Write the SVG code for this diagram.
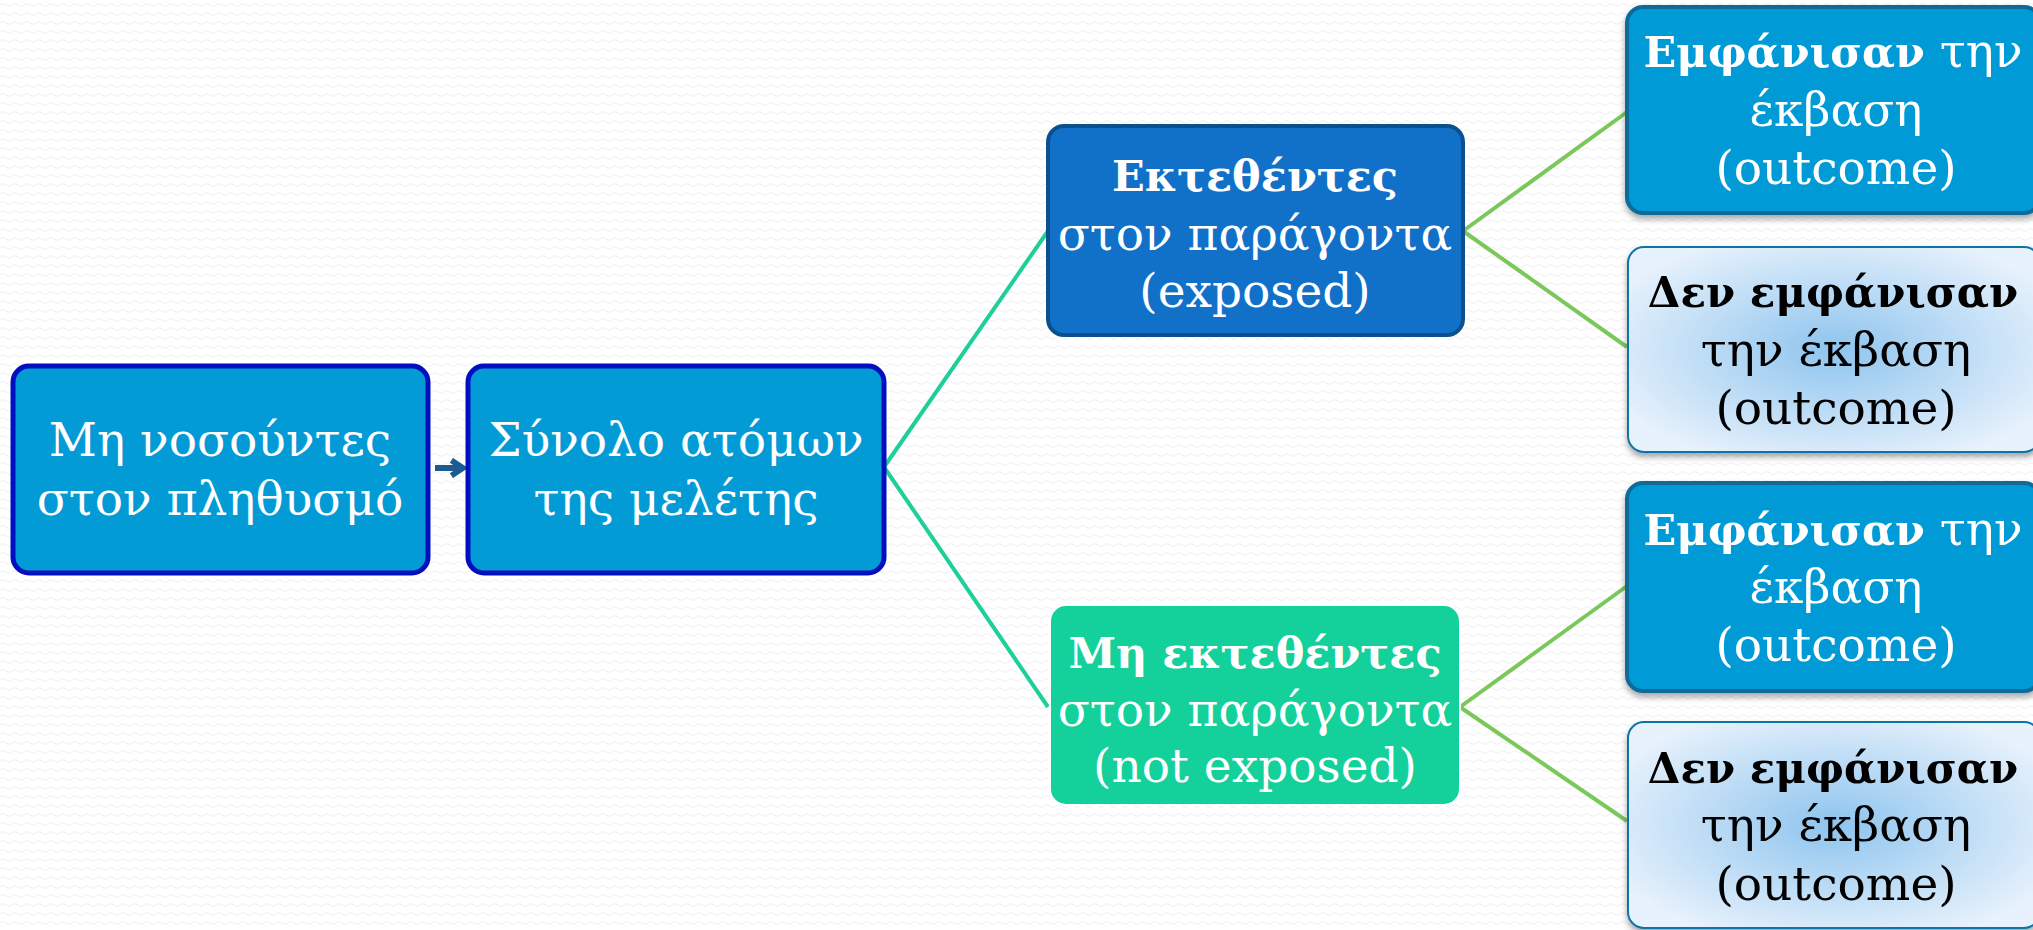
<svg xmlns="http://www.w3.org/2000/svg" width="2033" height="930" viewBox="0 0 2033 930">
<defs>
<pattern id="bg" width="12" height="9" patternUnits="userSpaceOnUse">
<path d="M0 5 Q3 2 6 5 T12 5" fill="none" stroke="#efefef" stroke-width="1"/>
</pattern>
<radialGradient id="lb" cx="0.5" cy="0.5" r="0.6">
<stop offset="0" stop-color="#8ec4ee"/>
<stop offset="1" stop-color="#e8f2fc"/>
</radialGradient>
<filter id="sh" x="-10%" y="-10%" width="120%" height="125%">
<feDropShadow dx="0" dy="4" stdDeviation="3" flood-color="#000" flood-opacity="0.35"/>
</filter>
<marker id="arr" viewBox="0 0 10 10" refX="7" refY="5" markerWidth="3.2" markerHeight="3.2" orient="auto" markerUnits="strokeWidth">
<path d="M2 1 L8 5 L2 9" fill="none" stroke="#1c5a94" stroke-width="3"/>
</marker>
</defs>
<style>
text{font-family:"DejaVu Serif","Liberation Serif",serif;font-size:47px;text-anchor:middle;fill:#fff}
.b{font-weight:bold;font-size:43px}
.b2{font-weight:bold;font-size:42px}
.dk{fill:#000}
.n12{fill:#039bd6;stroke:#0010c0;stroke-width:5}
.n3{fill:#1170c8;stroke:#0b4f8f;stroke-width:4}
.n4{fill:#14d09a;stroke:#fff;stroke-width:2}
.rb{fill:#039bd6;stroke:#0a6b99;stroke-width:4}
.rl{fill:url(#lb);stroke:#1173a8;stroke-width:2}
.c1{stroke:#1ecf9a;stroke-width:4;fill:none}
.c2{stroke:#7ac75a;stroke-width:4;fill:none}
</style>
<rect width="2033" height="930" fill="#fff"/>
<rect width="2033" height="930" fill="url(#bg)"/>
<g id="connectors">
<line class="c1" x1="884" y1="467" x2="1048" y2="231"/>
<line class="c1" x1="884" y1="467" x2="1048" y2="707"/>
<line class="c2" x1="1463" y1="231" x2="1627" y2="112"/>
<line class="c2" x1="1463" y1="231" x2="1627" y2="347"/>
<line class="c2" x1="1460" y1="707" x2="1627" y2="586"/>
<line class="c2" x1="1460" y1="707" x2="1627" y2="821"/>
<line x1="435" y1="468" x2="461" y2="468" stroke="#1c5a94" stroke-width="6" marker-end="url(#arr)"/>
</g>
<g id="n1">
<rect class="n12" x="13" y="366" width="415" height="207" rx="16"/>
<text x="220" y="456">Μη νοσούντες</text>
<text x="220" y="515">στον πληθυσμό</text>
</g>
<g id="n2">
<rect class="n12" x="468" y="366" width="416" height="207" rx="16"/>
<text x="676" y="456">Σύνολο ατόμων</text>
<text x="676" y="515">της μελέτης</text>
</g>
<g id="n3">
<rect class="n3" x="1048" y="126" width="415" height="209" rx="16"/>
<text class="b" x="1255" y="191">Εκτεθέντες</text>
<text x="1255" y="250">στον παράγοντα</text>
<text x="1255" y="307">(exposed)</text>
</g>
<g id="n4">
<rect class="n4" x="1050" y="605" width="410" height="200" rx="16"/>
<text class="b" x="1255" y="668">Μη εκτεθέντες</text>
<text x="1255" y="726">στον παράγοντα</text>
<text x="1255" y="782">(not exposed)</text>
</g>
<g id="r1" filter="url(#sh)">
<rect class="rb" x="1627" y="7" width="413" height="206" rx="16"/>
<text x="1833" y="67"><tspan class="b">Εμφάνισαν</tspan> την</text>
<text x="1836" y="126">έκβαση</text>
<text x="1836" y="184">(outcome)</text>
</g>
<g id="r2" filter="url(#sh)">
<rect class="rl" x="1628" y="247" width="412" height="205" rx="16"/>
<text class="dk b2" x="1833" y="307">Δεν εμφάνισαν</text>
<text class="dk" x="1836" y="366">την έκβαση</text>
<text class="dk" x="1836" y="424">(outcome)</text>
</g>
<g id="r3" filter="url(#sh)">
<rect class="rb" x="1627" y="483" width="413" height="208" rx="16"/>
<text x="1833" y="545"><tspan class="b">Εμφάνισαν</tspan> την</text>
<text x="1836" y="603">έκβαση</text>
<text x="1836" y="661">(outcome)</text>
</g>
<g id="r4" filter="url(#sh)">
<rect class="rl" x="1628" y="722" width="412" height="206" rx="16"/>
<text class="dk b2" x="1833" y="783">Δεν εμφάνισαν</text>
<text class="dk" x="1836" y="841">την έκβαση</text>
<text class="dk" x="1836" y="900">(outcome)</text>
</g>
</svg>
